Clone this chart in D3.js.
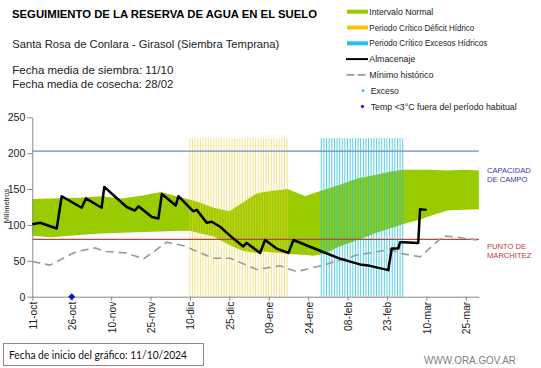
<!DOCTYPE html>
<html><head><meta charset="utf-8">
<script src="https://cdn.jsdelivr.net/npm/d3@7"></script>
<style>body{margin:0;background:#fff} svg{display:block;font-family:"Liberation Sans",Arial,sans-serif}</style>
</head><body><svg id="c" width="541" height="368"></svg>
<script>
// ---------- DATA (days counted from 11-oct-2024) ----------
const tickDays = [0, 15, 30, 45, 60, 75, 90, 105, 120, 135, 150, 165];
const tickLabels = ["11-oct","26-oct","10-nov","25-nov","10-dic","25-dic","09-ene","24-ene","08-feb","23-feb","10-mar","25-mar"];
const yTicks = [0, 50, 100, 150, 200, 250];

const capacidadCampo = 203;
const puntoMarchitez = 80;

const bandDays    = [0,7,18,26,34,42,49,56,60,64,69,75,80,85,88,97,104,107,111,117,124,131,136,141,148,151,158,164,170];
const normalUpper = [136,137,138,140,137,141,146,139,135,131,124,119,131,143,146,150,140,144,149,156,165,170,174,177,177,177,176,177,176];
const normalLower = [85,83,86,88,89,90,91,92,92,88,84,72,64,61,63,60,58,57,60,70,79,89,95,101,108,112,120,121,122];

const almDays = [0,3,9.3,11.2,18.8,20.4,26.4,27.4,35.9,39.1,40.4,45.5,48,49.3,54.6,55.6,61.3,62.6,66.4,68.3,71.5,75.9,80.3,81.6,86.7,88.6,93,97.5,99.4,109.5,117.1,124.7,128.5,135.5,136.8,139.3,140,141.2,146.9,147.6,150.1];
const almVals = [101,103,95,140,124,137,124,153,125,120,126,111,109,143,127,140,119,121,103,104.5,97.5,83,70,75,61,79,67,61,79,64,53,45,43,37,67,67,76,76,75,122,121];

const minDays = [0,6.7,13.1,16.9,23.9,27.7,35.9,42.3,51.2,58.8,61.3,68.9,75.3,85.4,94.3,100.6,110.8,123.5,131.1,136.2,140,147.6,156.5,161.5,169.2];
const minVals = [49,44,56,63,68,63,61,52.5,76,70,65,53.5,53.5,38,43,35,44,58,62.7,66,60.5,55.5,84.6,83,79];

const deficitStart = 60, deficitEnd = 97;   // Período crítico déficit hídrico
const excesoStart = 110, excesoEnd = 141;   // Período crítico excesos hídricos
const periodTop = 221;
const frioDays = [15];                      // Temp <3°C fuera del período habitual

const legendLabels = ["Intervalo Normal","Periodo Crítico Déficit Hídrico","Periodo Crítico Excesos Hídricos","Almacenaje","Mínimo histórico","Exceso","Temp <3°C fuera del período habitual"];
const legendWidths = [64,105,118,46,64,28,146];

// ---------- CHART ----------
const svg = d3.select("#c");
const x = d3.scaleLinear().domain([0,170]).range([32.3,478.9]);
const y = d3.scaleLinear().domain([0,250]).range([296.7,117.3]);

// normal band
const area = d3.area().x((d,i)=>x(bandDays[i])).y0((d,i)=>y(normalLower[i])).y1((d,i)=>y(normalUpper[i]));
svg.append("path").datum(bandDays).attr("d", area).attr("fill","#99cc00");

// period lines
svg.append("g").selectAll("line").data(d3.range(deficitStart, deficitEnd+1)).join("line")
  .attr("x1",d=>x(d)).attr("x2",d=>x(d)).attr("y1",y(0)).attr("y2",y(periodTop))
  .attr("stroke","#f5cf3a").attr("stroke-width",1).attr("opacity",0.6);
svg.append("g").selectAll("line").data(d3.range(excesoStart, excesoEnd+1)).join("line")
  .attr("x1",d=>x(d)).attr("x2",d=>x(d)).attr("y1",y(0)).attr("y2",y(periodTop))
  .attr("stroke","#1ec0dc").attr("stroke-width",1).attr("opacity",0.75);

// reference lines
svg.append("line").attr("x1",x(0)).attr("x2",x(170)).attr("y1",y(capacidadCampo)).attr("y2",y(capacidadCampo))
  .attr("stroke","#6f8cc4").attr("stroke-width",1.2);
svg.append("line").attr("x1",x(0)).attr("x2",x(170)).attr("y1",y(puntoMarchitez)).attr("y2",y(puntoMarchitez))
  .attr("stroke","#b84545").attr("stroke-width",1.2);

// axes
const yAxis = svg.append("g").attr("transform",`translate(${x(0)},0)`)
  .call(d3.axisLeft(y).tickValues(yTicks).tickSize(5).tickSizeOuter(0).tickPadding(2));
yAxis.select(".domain").attr("stroke","#888");
yAxis.selectAll(".tick line").attr("stroke","#888");
yAxis.selectAll("text").attr("font-size","10.5px").attr("fill","#222").attr("font-family","Liberation Sans, Arial");

const xAxis = svg.append("g").attr("transform",`translate(0,${y(0)})`)
  .call(d3.axisBottom(x).tickValues(tickDays).tickFormat((d,i)=>tickLabels[i]).tickSize(4).tickSizeOuter(0));
xAxis.select(".domain").attr("stroke","#888");
xAxis.selectAll(".tick line").attr("stroke","#888");
xAxis.selectAll("text").attr("font-size","10.3px").attr("fill","#222").attr("font-family","Liberation Sans, Arial")
  .attr("transform","rotate(-90)").attr("text-anchor","end").attr("x",-5).attr("y",0).attr("dy","0.38em");

// minimo historico
const lineMin = d3.line().x((d,i)=>x(minDays[i])).y((d,i)=>y(minVals[i]));
svg.append("path").datum(minDays).attr("d",lineMin).attr("fill","none")
  .attr("stroke","#999").attr("stroke-width",1.6).attr("stroke-dasharray","8,5");

// almacenaje
const lineAlm = d3.line().x((d,i)=>x(almDays[i])).y((d,i)=>y(almVals[i]));
svg.append("path").datum(almDays).attr("d",lineAlm).attr("fill","none")
  .attr("stroke","#000").attr("stroke-width",2.5).attr("stroke-linejoin","round");

// frio diamond
svg.append("g").selectAll("path").data(frioDays).join("path")
  .attr("d", d3.symbol(d3.symbolSquare, 24)())
  .attr("transform", d=>`translate(${x(d)},${y(0)}) rotate(45)`).attr("fill","#0a14d0");

// y label
svg.append("text").attr("transform","translate(9,206) rotate(-90)").attr("text-anchor","middle")
  .attr("font-size","7.5px").attr("fill","#222").text("Milímetros");

// right labels
svg.append("text").attr("x",487).attr("y",173.3).attr("font-size","7.6px").attr("fill","#3a3aa8").text("CAPACIDAD");
svg.append("text").attr("x",487).attr("y",181.7).attr("font-size","7.6px").attr("fill","#3a3aa8").text("DE  CAMPO");
svg.append("text").attr("x",487).attr("y",249.3).attr("font-size","7.6px").attr("fill","#c03a3a").text("PUNTO  DE");
svg.append("text").attr("x",487).attr("y",257.7).attr("font-size","7.6px").attr("fill","#c03a3a").text("MARCHITEZ");

// titles
svg.append("text").attr("x",12).attr("y",18).attr("font-size","10.2px").attr("font-weight","bold")
  .attr("textLength",305).attr("lengthAdjust","spacingAndGlyphs").attr("fill","#000")
  .text("SEGUIMIENTO DE LA RESERVA DE AGUA  EN EL SUELO");
svg.append("text").attr("x",12.3).attr("y",48.3).attr("font-size","11px").attr("fill","#222")
  .attr("textLength",267).attr("lengthAdjust","spacingAndGlyphs")
  .text("Santa Rosa de Conlara - Girasol (Siembra Temprana)");
svg.append("text").attr("x",12.3).attr("y",74.3).attr("font-size","11px").attr("fill","#222")
  .attr("textLength",161).attr("lengthAdjust","spacingAndGlyphs").text("Fecha media de siembra: 11/10");
svg.append("text").attr("x",12.3).attr("y",88).attr("font-size","11px").attr("fill","#222")
  .attr("textLength",161).attr("lengthAdjust","spacingAndGlyphs").text("Fecha media de cosecha: 28/02");

// legend
const lg = svg.append("g");
const rowY = i => 11.7 + i*15.8;
const legColors = ["#99cc00","#f5c400","#22c4ee"];
legColors.forEach((c,i)=>{
  lg.append("rect").attr("x",347).attr("y",rowY(i)-2).attr("width",21).attr("height",4).attr("fill",c);
});
lg.append("line").attr("x1",346).attr("x2",368).attr("y1",rowY(3)).attr("y2",rowY(3)).attr("stroke","#000").attr("stroke-width",2);
lg.append("line").attr("x1",346.5).attr("x2",367).attr("y1",rowY(4)).attr("y2",rowY(4)).attr("stroke","#999").attr("stroke-width",1.6).attr("stroke-dasharray","8,3");
lg.append("circle").attr("cx",363).attr("cy",rowY(5)).attr("r",1.4).attr("fill","#22c4ee");
lg.append("path").attr("d",d3.symbol(d3.symbolSquare,8)()).attr("transform",`translate(362.5,${rowY(6)}) rotate(45)`).attr("fill","#0a14d0");
legendLabels.forEach((t,i)=>{
  lg.append("text").attr("x", i>=5 ? 370.7 : 369.3).attr("y",rowY(i)+3).attr("font-size","8.6px").attr("fill","#222")
    .attr("textLength",legendWidths[i]).attr("lengthAdjust","spacingAndGlyphs").text(t);
});

// footer
svg.append("rect").attr("x",3.5).attr("y",343.5).attr("width",200).attr("height",22)
  .attr("fill","#fff").attr("stroke","#9a8585").attr("stroke-width",1);
svg.append("text").attr("x",9).attr("y",359).attr("font-size","11.5px").attr("font-family","Lato, sans-serif").attr("fill","#111")
  .attr("textLength",178).attr("lengthAdjust","spacingAndGlyphs").text("Fecha de inicio del gráfico:  11/10/2024");
svg.append("text").attr("x",424).attr("y",364).attr("font-size","10px").attr("fill","#7f7f7f")
  .attr("textLength",92).attr("lengthAdjust","spacingAndGlyphs").text("WWW.ORA.GOV.AR");
</script></body></html>
